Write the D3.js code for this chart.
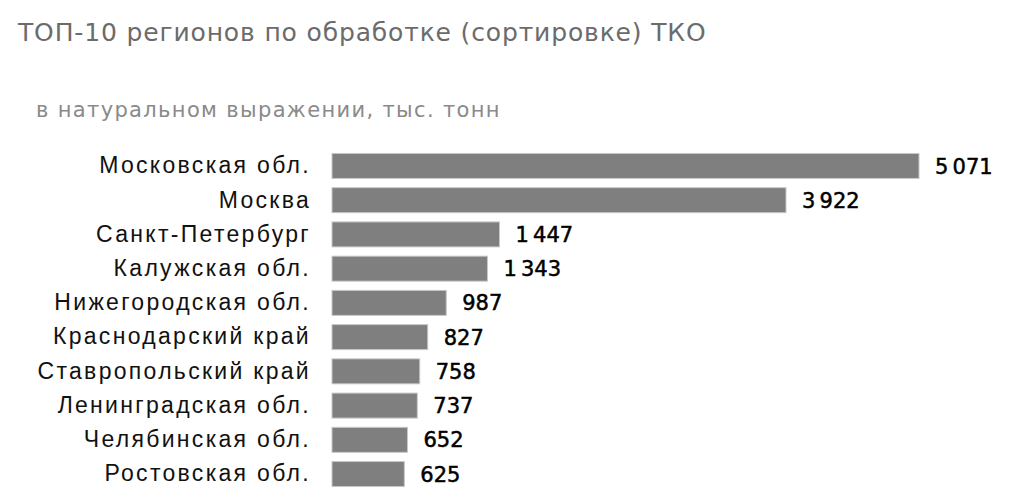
<!DOCTYPE html>
<html>
<head>
<meta charset="utf-8">
<style>
    body {
        margin: 0;
        background: #fff;
    }
    svg {
        font-family: 'DejaVu Sans', sans-serif;
    }
    .title {
        font-size: 25px;
        letter-spacing: 0.85px;
        fill: #6b6b6b;
    }
    .subtitle {
        font-size: 21px;
        letter-spacing: 1.35px;
        fill: #8a8a8a;
    }
    .y .tick text {
        font-size: 23px;
        letter-spacing: 2.3px;
        fill: #111;
    }
    .value {
        font-size: 21px;
        fill: #000;
        stroke: #000;
        stroke-width: 0.5px;
    }
</style>
</head>
<body>
<svg width="1017" height="499"></svg>

<script src="https://d3js.org/d3.v7.min.js"></script>
<script>
    // data
    let regions = [
        "Московская обл.",
        "Москва",
        "Санкт-Петербург",
        "Калужская обл.",
        "Нижегородская обл.",
        "Краснодарский край",
        "Ставропольский край",
        "Ленинградская обл.",
        "Челябинская обл.",
        "Ростовская обл."
    ]
    let values = [5071, 3922, 1447, 1343, 987, 827, 758, 737, 652, 625]

    let svg = d3.select("svg")

    let margin = {top: 149, left: 332, bottom: 15}
    let height = 499

    let x = d3.scaleLinear()
        .domain([0, 5071])
        .range([margin.left, 919])

    let y = d3.scaleBand()
        .domain(regions)
        .range([margin.top, height - margin.bottom + 7])
        .paddingInner(0.27)
        .paddingOuter(0.13)

    svg.append("text")
        .attr("class", "title")
        .attr("x", 18)
        .attr("y", 41)
        .text("ТОП-10 регионов по обработке (сортировке) ТКО")

    svg.append("text")
        .attr("class", "subtitle")
        .attr("x", 36)
        .attr("y", 117)
        .text("в натуральном выражении, тыс. тонн")

    // category axis, no lines
    svg.append("g")
        .attr("class", "y axis")
        .attr("transform", `translate(${margin.left - 21},0)`)
        .call(d3.axisLeft(y).tickSize(0).tickPadding(0))
        .call(g => g.select(".domain").remove())

    let fmt = d => d3.format(",")(d).replace(",", "\u2009")

    svg.append("g")
        .selectAll("rect")
        .data(values)
        .join("rect")
        .attr("x", x(0))
        .attr("y", (d, i) => y(regions[i]))
        .attr("width", d => x(d) - x(0))
        .attr("height", y.bandwidth())
        .attr("fill", "#7f7f7f")
        .attr("stroke", "#c8c8c8")
        .attr("stroke-width", 1)

    svg.append("g")
        .selectAll("text")
        .data(values)
        .join("text")
        .attr("class", "value")
        .attr("x", d => x(d) + 16)
        .attr("y", (d, i) => y(regions[i]) + y.bandwidth() / 2)
        .attr("dy", "0.36em")
        .text(fmt)
</script>
</body>
</html>
